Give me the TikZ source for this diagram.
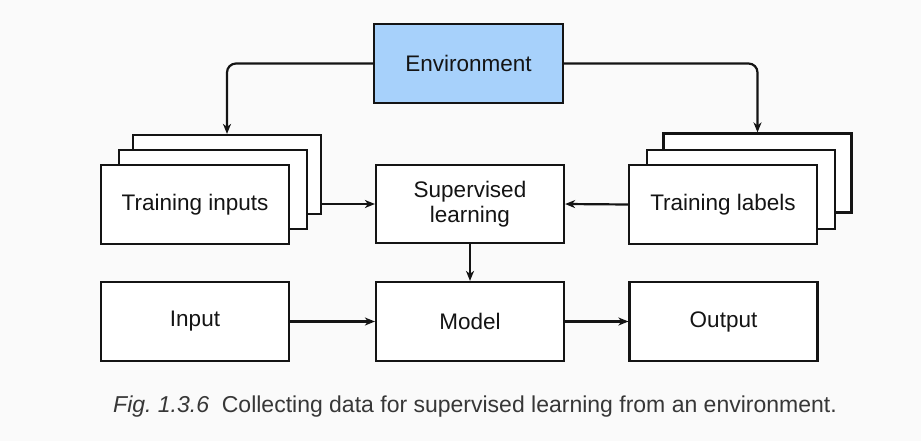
\documentclass[tikz,border=0pt]{standalone}
\usepackage{fontspec}
\setmainfont{Liberation Sans}
\usetikzlibrary{arrows.meta}
\definecolor{bg}{RGB}{250,250,250}
\definecolor{envblue}{RGB}{167,209,251}
\definecolor{ink}{RGB}{20,20,20}
\begin{document}
\begin{tikzpicture}[x=1pt,y=-1pt,
  box/.style={draw=ink, line width=2.2pt, fill=white, minimum width=188pt, minimum height=79pt,
    inner sep=0pt, align=center, font=\fontsize{22.5}{26}\selectfont, text=ink},
  arr/.style={draw=ink, line width=2.2pt, -{Stealth[length=10pt,width=8pt,inset=3pt]}, rounded corners=9pt}]
\fill[bg] (0,0) rectangle (921,441);
\useasboundingbox (0,0) rectangle (921,441);

\node[box, fill=envblue, minimum width=189pt] (env) at (468.5,63.5) {Environment};

\node[box] (tinback) at (227,174.5) {};
\node[box] (tinmid) at (213,189.5) {};
\node[box] (tin) at (195,204.5) {Training inputs};

\node[box, minimum height=78pt] (sup) at (470,204) {Supervised\\[-1pt]learning};

\node[box] (tlabback) at (757.5,173) {};
\node[box] (tlabmid) at (741,189.5) {};
\node[box] (tlab) at (723,204.5) {Training labels};

\node[box] (input) at (195,321.5) {Input};
\node[box] (model) at (470,321.5) {Model};
\node[box] (output) at (723.5,321.5) {Output};

\draw[arr] (env.west) -| (tinback.north);
\draw[arr] (env.east) -| (tlabback.north);
\draw[arr] (tinback.east |- sup.west) -- (sup.west);
\draw[arr] (tlab.west) -- (sup.east);
\draw[arr] (sup.south) -- (model.north);
\draw[arr] (input) -- (model);
\draw[arr] (model) -- (output);

\node[font=\fontsize{23}{27}\selectfont, text=ink!85] (cap) at (475,407)
  {\itshape Fig.\ 1.3.6\upshape\ \ Collecting data for supervised learning from an environment.};
\end{tikzpicture}
\end{document}
